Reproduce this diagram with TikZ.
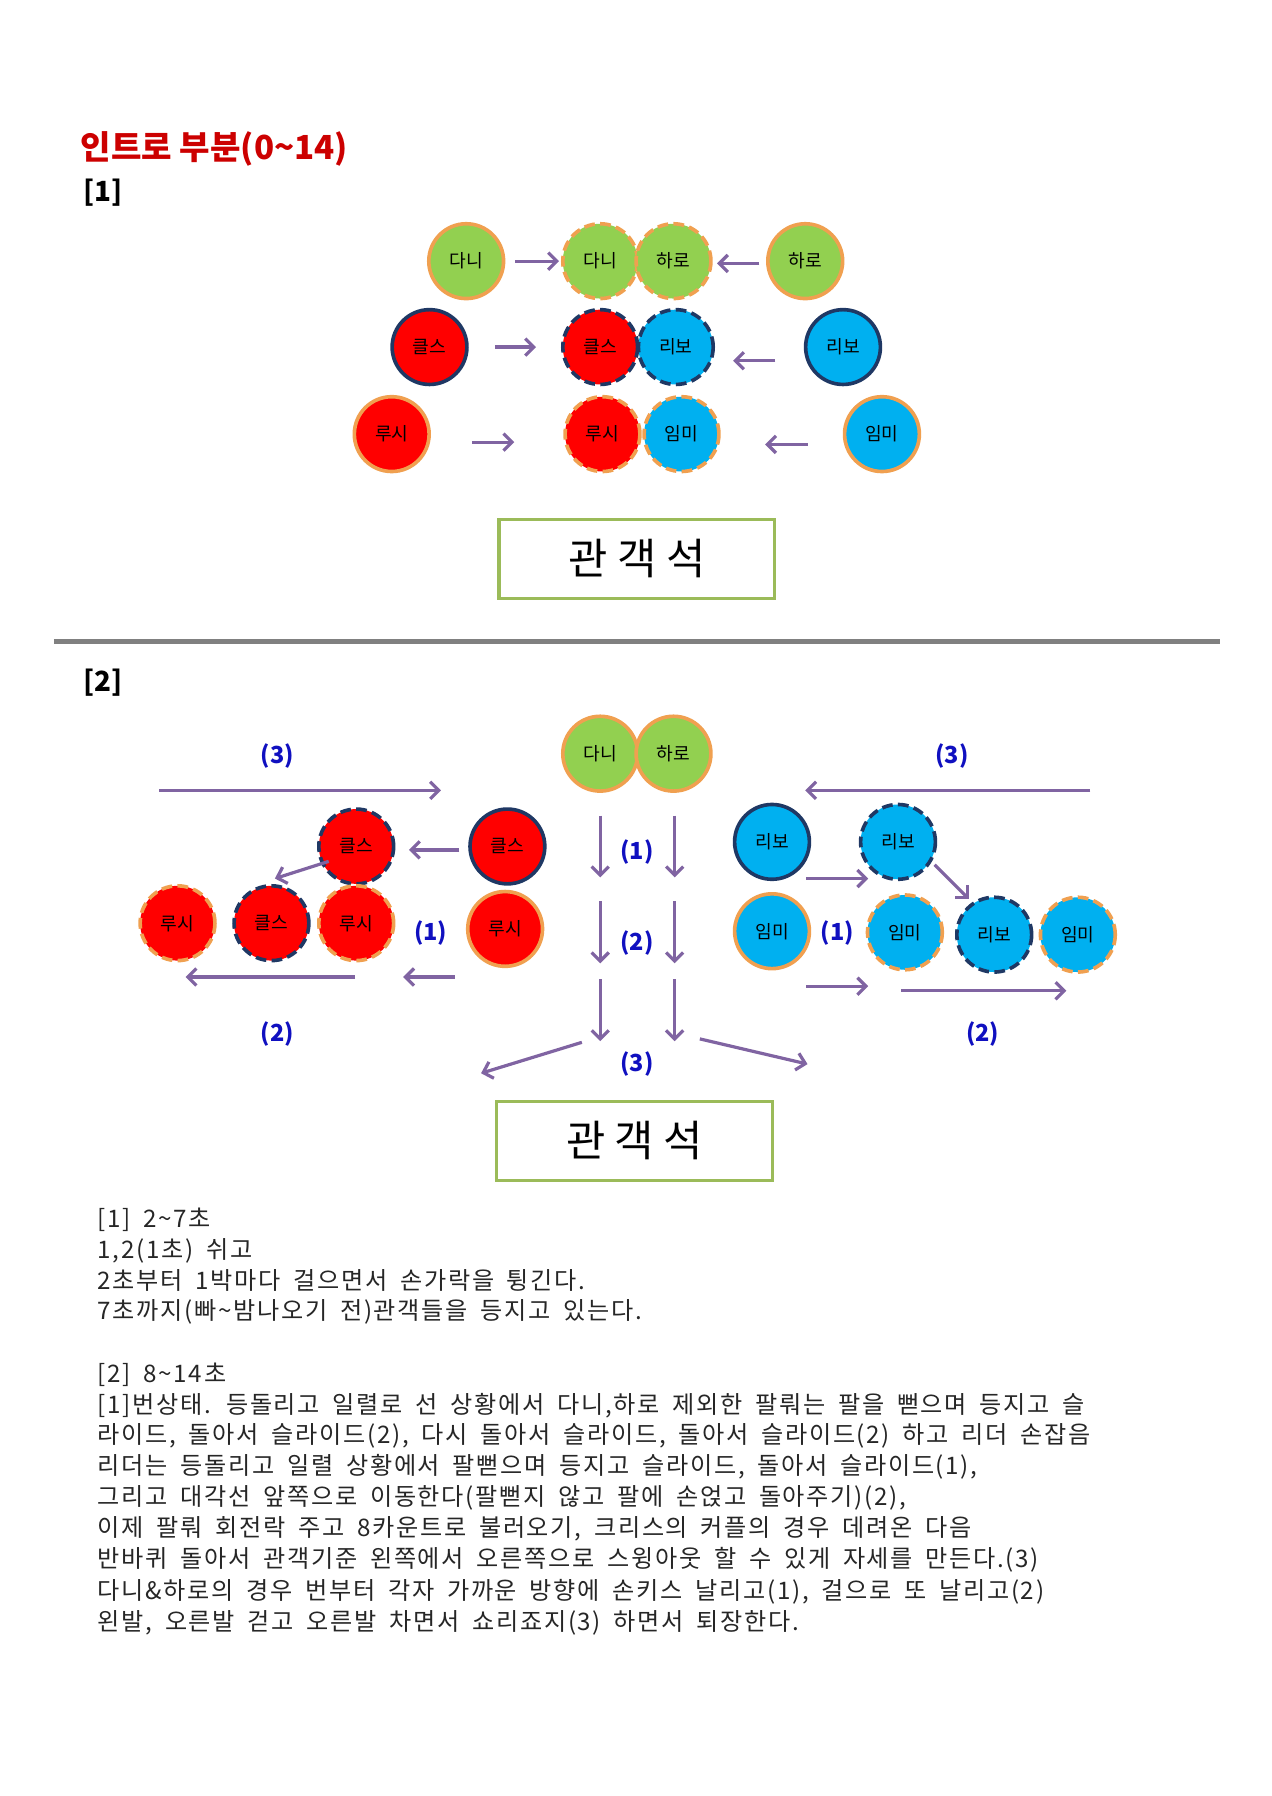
\documentclass[tikz,border=0pt]{standalone}
\usepackage{fontspec}
\setmainfont{Noto Sans CJK KR}
\newfontfamily\wide[LetterSpace=7,WordSpace=1.8]{Noto Sans CJK KR}
\usetikzlibrary{arrows.meta}
\definecolor{gr}{HTML}{92D050}
\definecolor{og}{HTML}{F0A050}
\definecolor{rd}{HTML}{FF0000}
\definecolor{bl}{HTML}{00B0F0}
\definecolor{db}{HTML}{1F3864}
\definecolor{pu}{HTML}{8064A2}
\definecolor{lb}{HTML}{1010C0}
\definecolor{bx}{HTML}{9BBB59}
\begin{document}
\begin{tikzpicture}[x=0.536pt,y=-0.536pt,
 p/.style={circle,minimum size=35pt,inner sep=0pt,line width=1.7pt,font=\fontsize{8.5}{10}\selectfont},
 G/.style={p,fill=gr,draw=og},
 GD/.style={G,dash pattern=on 5pt off 2.5pt},
 R/.style={p,fill=rd,draw=db},
 RD/.style={R,dash pattern=on 5pt off 2.5pt},
 RO/.style={p,fill=rd,draw=og},
 ROD/.style={RO,dash pattern=on 5pt off 2.5pt},
 B/.style={p,fill=bl,draw=db},
 BD/.style={B,dash pattern=on 5pt off 2.5pt},
 BO/.style={p,fill=bl,draw=og},
 BOD/.style={BO,dash pattern=on 5pt off 2.5pt},
 arr/.style={draw=pu,line width=1.5pt,-{Straight Barb[length=4pt,width=8pt]}},
 lab/.style={text=lb,font=\bfseries\fontsize{11}{13}\selectfont},
 box/.style={draw=bx,line width=1.6pt,minimum width=129pt,minimum height=37pt,font=\fontsize{20}{22}\selectfont},
 tx/.style={anchor=west,inner sep=0pt,font=\wide\fontsize{11.3}{12}\selectfont,text=black!85}]
\useasboundingbox (0,0) rectangle (1110,1568);
\node[anchor=west,text=red!80!black,font=\bfseries\fontsize{15.5}{17}\selectfont] (title) at (64,130) {인트로 부분(0\textasciitilde 14)};
\node[anchor=west,font=\bfseries\fontsize{13}{15}\selectfont] (h1) at (66,168) {[1]};
% section 1
\node[G] (a1) at (407,228) {다니};
\node[GD] (a2) at (524,228) {다니};
\node[GD] (a3) at (588,228) {하로};
\node[G] (a4) at (703,228) {하로};
\node[R] (b1) at (375,303) {클스};
\node[RD] (b2) at (524,303) {클스};
\node[BD] (b3) at (590,303) {리보};
\node[B] (b4) at (736,303) {리보};
\node[RO] (c1) at (342,379) {루시};
\node[ROD] (c2) at (526,379) {루시};
\node[BOD] (c3) at (595,379) {임미};
\node[BO] (c4) at (770,379) {임미};
\draw[arr] (450,228) -- (488,228);
\draw[arr] (663,230) -- (626,230);
\draw[arr] (432,303) -- (468,303);
\draw[arr] (677,315) -- (640,315);
\draw[arr] (412,386) -- (449,386);
\draw[arr] (705,388) -- (668,388);
\node[box] (box1) at (556,488) {관 객 석};
\draw[line width=2.2pt,black!50] (47,560) -- (1065,560);
\node[anchor=west,font=\bfseries\fontsize{13}{15}\selectfont] (h2) at (66,596) {[2]};
% section 2
\node[G] (d1) at (524,658) {다니};
\node[G] (d2) at (588,658) {하로};
\node[lab] at (242,660) {(3)};
\node[lab] at (831,660) {(3)};
\draw[arr] (139,690) -- (385,690);
\draw[arr] (952,690) -- (703,690);
\node[RD] (e1) at (311,739) {클스};
\node[R] (e2) at (443,739) {클스};
\draw[arr] (401,742) -- (357,742);
\draw[arr] (287,752) -- (240,767);
\node[ROD] (f1) at (155,806) {루시};
\node[RD] (f2) at (237,806) {클스};
\node[ROD] (f3) at (311,806) {루시};
\node[lab] at (376,815) {(1)};
\node[RO] (f4) at (441,811) {루시};
\draw[arr] (310,853) -- (162,853);
\draw[arr] (397,853) -- (352,853);
\node[lab] at (242,903) {(2)};
\foreach \xx in {524,589}{
 \draw[arr] (\xx,712) -- (\xx,766);
 \draw[arr] (\xx,787) -- (\xx,841);
 \draw[arr] (\xx,855) -- (\xx,909);}
\node[lab] at (556,744) {(1)};
\node[lab] at (556,823) {(2)};
\node[lab] at (556,929) {(3)};
\draw[arr] (508,910) -- (420,937);
\draw[arr] (611,907) -- (705,929);
\node[box] (box2) at (554,996) {관 객 석};
\node[B] (g1) at (674,735) {리보};
\node[BD] (g2) at (784,735) {리보};
\draw[arr] (704,767) -- (758,767);
\draw[arr] (816,755) -- (846,785);
\node[BO] (h1n) at (674,813) {임미};
\node[lab] at (731,815) {(1)};
\node[BOD] (h2n) at (790,814) {임미};
\node[BD] (h3n) at (868,816) {리보};
\node[BOD] (h4n) at (941,816) {임미};
\draw[arr] (704,861) -- (758,861);
\draw[arr] (787,865) -- (931,865);
\node[lab] at (858,903) {(2)};
% text
\node[tx] (t1) at (85,1065) {[1] 2\textasciitilde 7초};
\node[tx] (t2) at (85,1092) {1,2(1초) 쉬고};
\node[tx] (t3) at (85,1118) {2초부터 1박마다 걸으면서 손가락을 튕긴다.};
\node[tx] (t4) at (85,1145) {7초까지(빠\textasciitilde 밤나오기 전)관객들을 등지고 있는다.};
\node[tx] (t5) at (85,1200) {[2] 8\textasciitilde 14초};
\node[tx] (t6) at (85,1227) {[1]번상태. 등돌리고 일렬로 선 상황에서 다니,하로 제외한 팔뤄는 팔을 뻗으며 등지고 슬};
\node[tx] (t7) at (85,1254) {라이드, 돌아서 슬라이드(2), 다시 돌아서 슬라이드, 돌아서 슬라이드(2) 하고 리더 손잡음};
\node[tx] (t8) at (85,1281) {리더는 등돌리고 일렬 상황에서 팔뻗으며 등지고 슬라이드, 돌아서 슬라이드(1),};
\node[tx] (t9) at (85,1308) {그리고 대각선 앞쪽으로 이동한다(팔뻗지 않고 팔에 손얹고 돌아주기)(2),};
\node[tx] (t10) at (85,1335) {이제 팔뤄 회전락 주고 8카운트로 불러오기, 크리스의 커플의 경우 데려온 다음};
\node[tx] (t11) at (85,1362) {반바퀴 돌아서 관객기준 왼쪽에서 오른쪽으로 스윙아웃 할 수 있게 자세를 만든다.(3)};
\node[tx] (t12) at (85,1390) {다니\&하로의 경우 번부터 각자 가까운 방향에 손키스 날리고(1), 걸으로 또 날리고(2)};
\node[tx] (t13) at (85,1417) {왼발, 오른발 걷고 오른발 차면서 쇼리죠지(3) 하면서 퇴장한다.};
\end{tikzpicture}
\end{document}
